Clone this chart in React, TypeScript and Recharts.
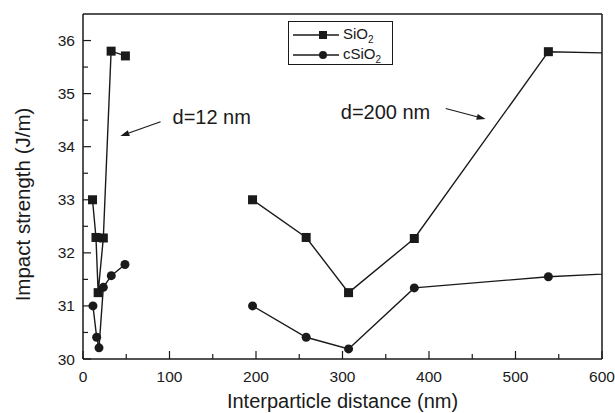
import { LineChart, Line, XAxis, YAxis, ReferenceLine, ReferenceDot } from 'recharts';

// d=12 nm particles (left cluster)
const sio2SmallX = [11, 15, 17.5, 23.5, 32.5, 49];
const sio2SmallY = [33.0, 32.29, 31.25, 32.28, 35.8, 35.71];
const csio2SmallX = [11.5, 15.8, 18.5, 23.5, 32.7, 48.5];
const csio2SmallY = [31.0, 30.41, 30.21, 31.35, 31.57, 31.78];

// d=200 nm particles (last point lies past the axis end)
const largeX = [196, 258, 307, 383, 538, 700];
const sio2LargeY = [33.0, 32.29, 31.25, 32.27, 35.79, 35.73];
const csio2LargeY = [31.0, 30.41, 30.19, 31.34, 31.55, 31.68];

const xTicks = [0, 50, 100, 150, 200, 250, 300, 350, 400, 450, 500, 550, 600];
const yTicks = [30, 30.5, 31, 31.5, 32, 32.5, 33, 33.5, 34, 34.5, 35, 35.5, 36];

const INK = '#1a1a1a';
const FONT = '"Liberation Sans", Arial, sans-serif';

const zip = (xs: number[], ys: number[]) => xs.map((x, i) => ({ x, y: ys[i] }));
// null row breaks the line between the two particle sizes
const sio2Data = [...zip(sio2SmallX, sio2SmallY), { x: 120, y: null }, ...zip(largeX, sio2LargeY)];
const csio2Data = [...zip(csio2SmallX, csio2SmallY), { x: 120, y: null }, ...zip(largeX, csio2LargeY)];

const SquareDot = (p: any) => {
  if (p.cx == null || p.cy == null || p.value == null) return <g key={p.key} />;
  return <rect key={p.key} x={p.cx - 4.5} y={p.cy - 4.5} width={9} height={9} fill={INK} />;
};

const YTick = ({ x, y, payload }: any) => {
  const major = Number.isInteger(payload.value);
  return (
    <g>
      <line x1={x} x2={x + (major ? 8 : 5)} y1={y} y2={y} stroke={INK} strokeWidth={1.2} />
      {major && (
        <text x={x - 8} y={y} textAnchor="end" dominantBaseline="central" fontSize={15.5} fontFamily={FONT} fill={INK}>
          {payload.value}
        </text>
      )}
    </g>
  );
};

const XTick = ({ x, y, payload }: any) => {
  const major = payload.value % 100 === 0;
  return (
    <g>
      <line x1={x} x2={x} y1={y} y2={y - (major ? 8 : 5)} stroke={INK} strokeWidth={1.2} />
      {major && (
        <text x={x} y={y + 17} textAnchor="middle" dominantBaseline="central" fontSize={15.5} fontFamily={FONT} fill={INK}>
          {payload.value}
        </text>
      )}
    </g>
  );
};

const Arrow = (p: any) => {
  const { x1, y1, x2, y2 } = p;
  const a = Math.atan2(y2 - y1, x2 - x1);
  const L = 9, W = 3;
  const bx = x2 - L * Math.cos(a), by = y2 - L * Math.sin(a);
  const pts = `${x2},${y2} ${bx - W * Math.sin(a)},${by + W * Math.cos(a)} ${bx + W * Math.sin(a)},${by - W * Math.cos(a)}`;
  return (
    <g>
      <line x1={x1} y1={y1} x2={bx} y2={by} stroke={INK} strokeWidth={1.2} />
      <polygon points={pts} fill={INK} />
    </g>
  );
};

const noteText = (txt: string) => (p: any) => (
  <text x={p.cx} y={p.cy} dominantBaseline="central" fontSize={20} fontFamily={FONT} fill={INK}>{txt}</text>
);

const yTitle = (p: any) => {
  const vb = p.viewBox || { x: 0, y: 14, width: 83, height: 344 };
  const cx = vb.x + 22;
  const cy = vb.y + vb.height / 2 + 18;
  return (
    <text x={cx} y={cy} transform={`rotate(-90, ${cx}, ${cy})`} textAnchor="middle" dominantBaseline="central" fontSize={20.5} fontFamily={FONT} fill={INK}>
      Impact strength (J/m)
    </text>
  );
};

const xTitle = (p: any) => {
  const vb = p.viewBox || { x: 83, y: 358, width: 519, height: 50 };
  return (
    <text x={vb.x + vb.width / 2} y={vb.y + 42} textAnchor="middle" dominantBaseline="central" fontSize={20} fontFamily={FONT} fill={INK}>
      Interparticle distance (nm)
    </text>
  );
};

const LegendRow = ({ marker, label }: { marker: 'square' | 'circle'; label: string }) => (
  <div style={{ display: 'flex', alignItems: 'center', height: 20 }}>
    <svg width={48} height={12} style={{ marginLeft: 4 }}>
      <line x1={0} x2={46} y1={6} y2={6} stroke={INK} strokeWidth={1.4} />
      {marker === 'square'
        ? <rect x={26} y={2} width={8} height={8} fill={INK} />
        : <circle cx={30} cy={6} r={4} fill={INK} />}
    </svg>
    <span style={{ fontSize: 15, fontFamily: FONT, color: INK, marginLeft: 2 }}>
      {label}O<sub style={{ fontSize: 10 }}>2</sub>
    </span>
  </div>
);

export default function App() {
  return (
    <div style={{ position: 'absolute', left: 0, top: 0, width: 615, height: 413, background: '#fff' }}>
      <LineChart width={615} height={413} margin={{ top: 14, right: 13, bottom: 4, left: 0 }}>
        <XAxis
          dataKey="x" type="number" domain={[0, 600]} allowDataOverflow ticks={xTicks} interval={0}
          height={50} tickSize={0} tickMargin={0} tick={<XTick />} tickLine={false}
          axisLine={{ stroke: INK, strokeWidth: 1.5 }} label={{ content: xTitle }}
        />
        <YAxis
          type="number" domain={[30, 36.5]} allowDataOverflow ticks={yTicks} interval={0}
          width={83} tickSize={0} tickMargin={0} tick={<YTick />} tickLine={false}
          axisLine={{ stroke: INK, strokeWidth: 1.5 }} label={{ content: yTitle }}
        />
        <ReferenceLine y={36.5} stroke={INK} strokeWidth={1.5} />
        <ReferenceLine x={600} stroke={INK} strokeWidth={1.5} />

        <ReferenceLine segment={[{ x: 89.7, y: 34.47 }, { x: 43.2, y: 34.2 }]} shape={Arrow} />
        <ReferenceLine segment={[{ x: 419.3, y: 34.72 }, { x: 465.5, y: 34.52 }]} shape={Arrow} />
        <ReferenceDot x={103.5} y={34.56} r={0} shape={noteText('d=12 nm')} />
        <ReferenceDot x={298} y={34.66} r={0} shape={noteText('d=200 nm')} />

        <Line data={sio2Data} dataKey="y" name="SiO2" type="linear" stroke={INK} strokeWidth={1.4}
          dot={SquareDot} activeDot={false} connectNulls={false} isAnimationActive={false} />
        <Line data={csio2Data} dataKey="y" name="cSiO2" type="linear" stroke={INK} strokeWidth={1.4}
          dot={{ r: 4.5, fill: INK, stroke: 'none' }} activeDot={false} connectNulls={false} isAnimationActive={false} />
      </LineChart>
      <div style={{ position: 'absolute', left: 288, top: 21, width: 105, height: 44, border: `1px solid ${INK}`, boxSizing: 'border-box', paddingTop: 3, background: '#fff' }}>
        <LegendRow marker="square" label="Si" />
        <LegendRow marker="circle" label="cSi" />
      </div>
    </div>
  );
}
